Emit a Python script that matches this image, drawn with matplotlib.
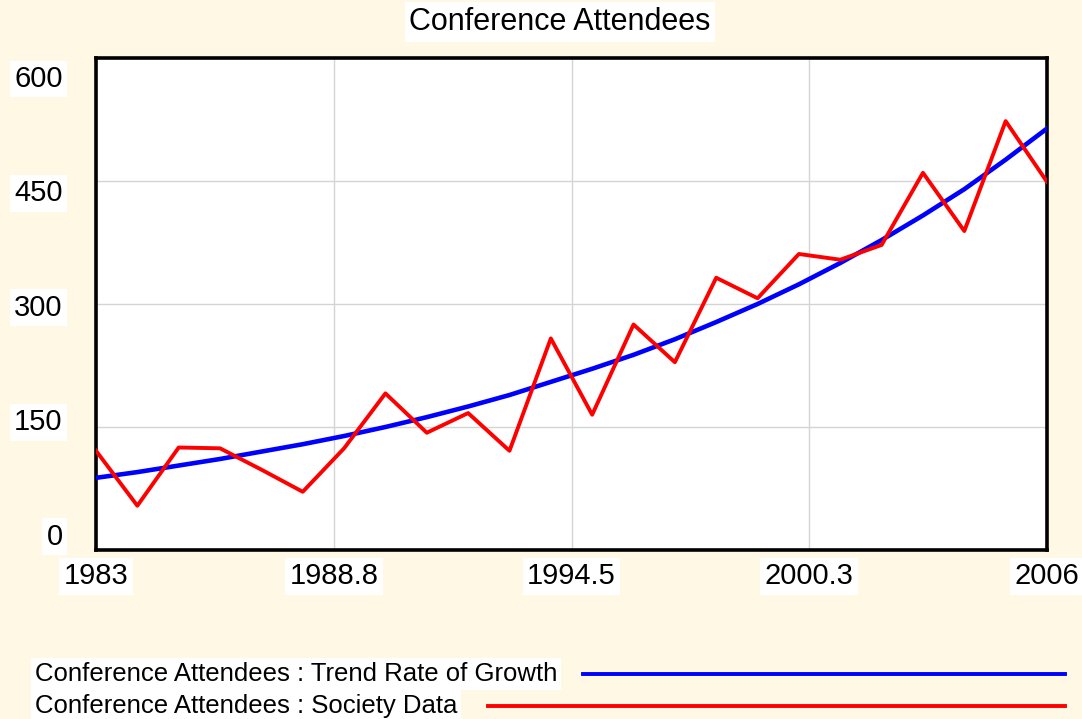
import matplotlib.pyplot as plt
from matplotlib.lines import Line2D
import numpy as np

plt.rcParams['font.family'] = ['Liberation Sans', 'DejaVu Sans']

# --- data ---
years = np.arange(1983, 2007)
society = [121, 54, 125, 124, 98, 71, 124, 191, 143, 167, 121, 258,
           165, 275, 229, 332, 307, 361, 354, 372, 460, 389, 523, 449]
trend = [88, 95, 103, 111, 120, 129, 139, 150, 162, 175, 189, 205,
         221, 238, 257, 278, 300, 324, 350, 378, 408, 440, 476, 514]
xtick_labels = ['1983', '1988.8', '1994.5', '2000.3', '2006']
ytick_labels = ['0', '150', '300', '450', '600']
hgrid = [150, 300, 450]
# ----------------------------------

bg = '#FFF8E5'
W, H = 1082, 719
fig = plt.figure(figsize=(W / 100, H / 100), dpi=100, facecolor=bg)
ax = fig.add_axes([96 / W, 169 / H, 951 / W, 492 / H])
ax.set_facecolor('white')

ax.plot(years, trend, color='#0000FF', lw=3.3, zorder=3)
ax.plot(years, society, color='#FF0000', lw=2.8, zorder=4)

ax.set_xlim(1983, 2006)
ax.set_ylim(0, 600)

for v in hgrid:
    ax.axhline(v, color='#D4D4D4', lw=1, zorder=1)
ax.set_xticks(np.linspace(1983, 2006, 5))
ax.set_xticklabels(xtick_labels)
ax.grid(axis='x', color='#D4D4D4', lw=1, zorder=1)

# y labels are spread a bit tighter than the grid, as in the original
ax.set_yticks(np.linspace(20, 578, 5))
ax.set_yticklabels(ytick_labels)

ax.tick_params(axis='x', length=0, pad=9, labelsize=21)
ax.tick_params(axis='y', length=0, pad=24, labelsize=21)
box = dict(facecolor='white', edgecolor='none', boxstyle='square,pad=0.15')
for lbl in ax.get_xticklabels() + ax.get_yticklabels():
    lbl.set_bbox(box)

for s in ax.spines.values():
    s.set_linewidth(2.6)
    s.set_color('black')

fig.text(560 / W, 1 - 22 / H, 'Conference Attendees', ha='center', va='center',
         fontsize=22, bbox=box)

legend = [('Conference Attendees : Trend Rate of Growth', '#0000FF', 674, 583),
          ('Conference Attendees : Society Data', '#FF0000', 706, 488)]
for text, col, y, x0 in legend:
    fig.text(35 / W, 1 - y / H, text, ha='left', va='center', fontsize=18.5, bbox=box)
    fig.add_artist(Line2D([x0 / W, 1065 / W], [1 - y / H, 1 - y / H],
                          transform=fig.transFigure, color=col, lw=2.8))

fig.savefig('out.png', dpi=100, facecolor=bg)
